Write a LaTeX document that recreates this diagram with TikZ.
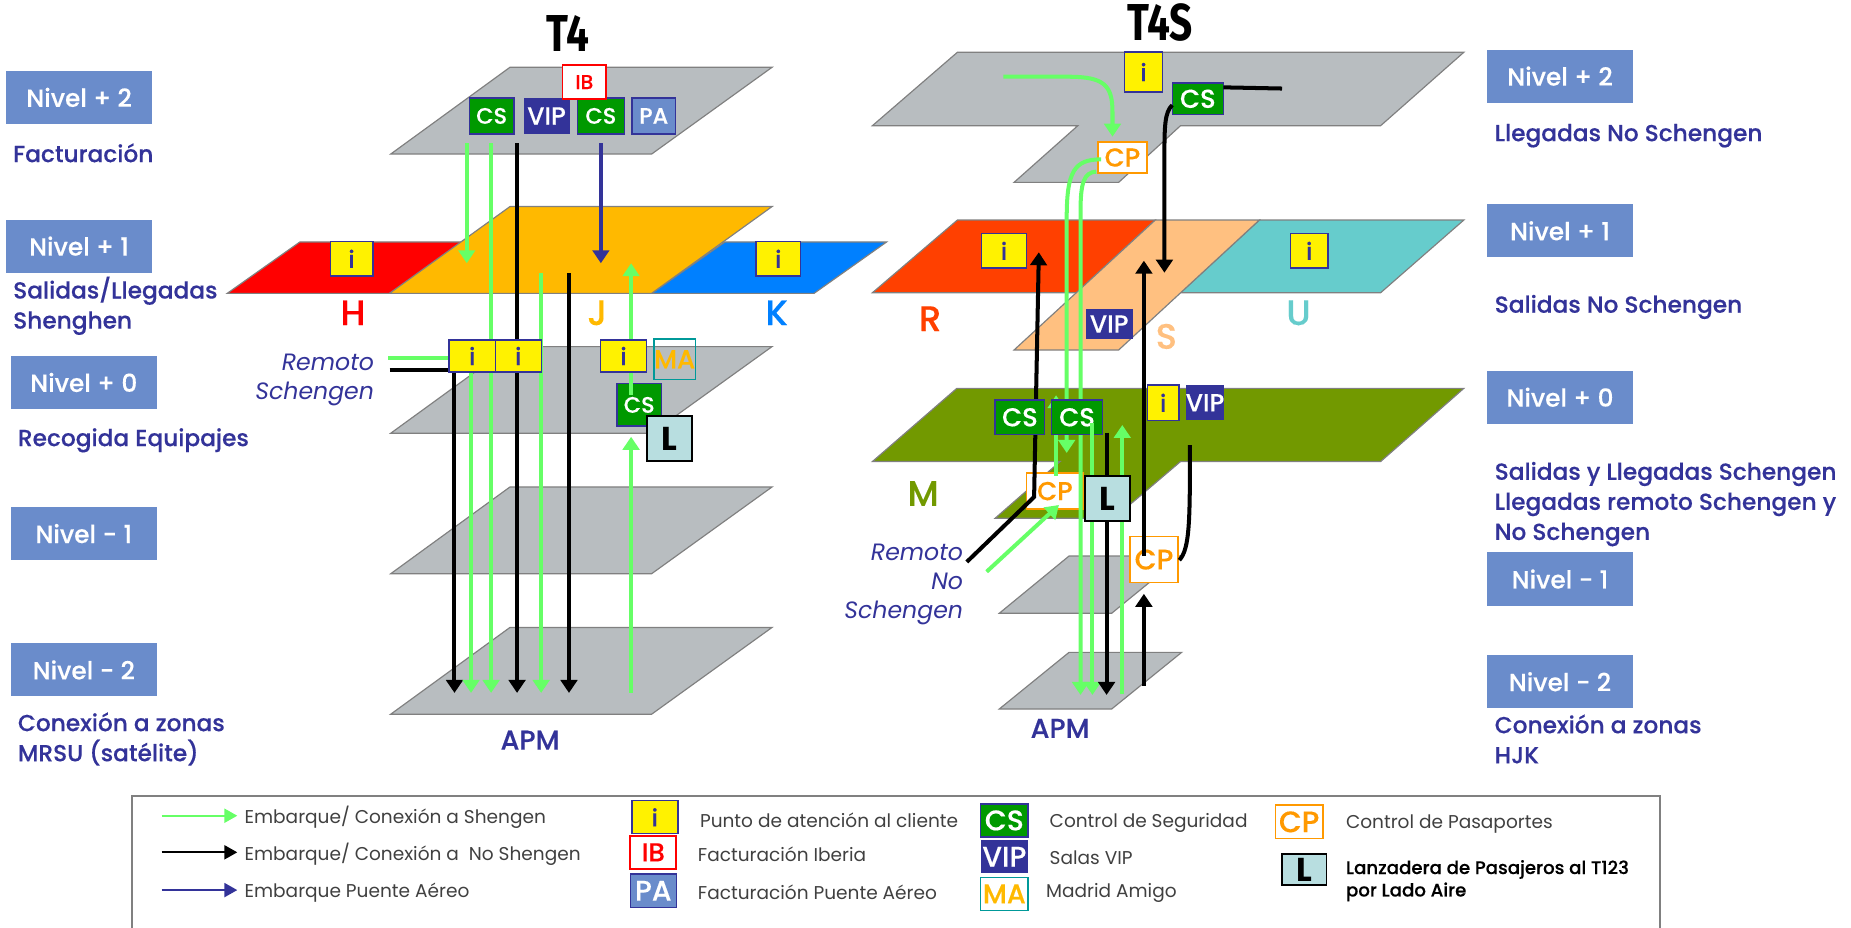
\documentclass[tikz,border=0pt]{standalone}
\usepackage{fontspec}
\usetikzlibrary{arrows.meta}
\setmainfont{Poppins}
\newfontfamily\labelfont[FakeBold=0.3]{Poppins Medium}
\newfontfamily\titlefont[FakeStretch=0.78]{Fira Sans}
\definecolor{planegray}{HTML}{B8BDC0}
\definecolor{planeline}{HTML}{808080}
\definecolor{arrowgreen}{HTML}{66FF66}
\definecolor{navy}{HTML}{333399}
\definecolor{nivelblue}{HTML}{6A8CCB}
\definecolor{csgreen}{HTML}{009900}
\definecolor{cporange}{HTML}{FF9900}
\definecolor{jorange}{HTML}{FFB900}
\definecolor{kblue}{HTML}{0080FF}
\definecolor{rred}{HTML}{FF4000}
\definecolor{speach}{HTML}{FFC080}
\definecolor{uteal}{HTML}{66CCCC}
\definecolor{molive}{HTML}{729900}
\definecolor{lblue}{HTML}{B8DEE0}
\definecolor{mateal}{HTML}{009999}
\tikzset{
    boxfont/.style={font=\labelfont\fontsize{#1}{#1}\selectfont},
    box/.style={inner sep=0pt,line width=1.2pt,boxfont=19},
    infobox/.style={box,draw=navy,fill=yellow,text=navy,boxfont=20,minimum width=36pt,minimum height=29pt},
    csbox/.style={box,draw=navy,fill=csgreen,text=white,minimum width=38pt,minimum height=29pt},
    vipbox/.style={box,fill=navy,text=white,boxfont=21,minimum width=39pt,minimum height=30pt},
    ibbox/.style={box,draw=red,fill=white,text=red,boxfont=17,minimum width=37pt,minimum height=29pt},
    pabox/.style={box,draw=navy,fill=nivelblue,text=white,minimum width=37pt,minimum height=30pt},
    cpbox/.style={box,draw=cporange,line width=1.5pt,fill=white,text=cporange,boxfont=22,minimum width=41pt,minimum height=26pt},
    mabox/.style={box,draw=mateal,text=jorange,boxfont=22,minimum width=35pt,minimum height=34pt},
    lbox/.style={box,draw=black,line width=1.5pt,fill=lblue,text=black,font=\fontsize{28}{28}\selectfont\bfseries,minimum width=38pt,minimum height=38pt},
    nivel/.style={fill=nivelblue,text=white,minimum width=124pt,minimum height=45pt,boxfont=21},
    lab/.style={anchor=west,align=left,inner sep=0pt,text=navy,font=\labelfont\fontsize{19.7}{25.5}\selectfont},
    remoto/.style={anchor=east,align=right,inner sep=0pt,text=navy,font=\fontsize{20}{24.5}\selectfont\itshape},
    letra/.style={boxfont=30},
    legend/.style={anchor=west,inner sep=0pt,text=black!75,font=\fontsize{15.7}{18}\selectfont},
    title/.style={font=\titlefont\fontsize{44}{44}\selectfont\bfseries},
    plane/.style={draw=planeline,line width=1pt},
    flow/.style={line width=3.4pt,-{Triangle[length=11pt,width=14pt]}},
    flowend/.style={line width=3.4pt},
    legflow/.style={line width=1.5pt,-{Triangle[length=11pt,width=12pt]}},
}
\begin{document}
\begin{tikzpicture}[x=1pt,y=-1pt]
    \useasboundingbox (0,0) rectangle (1568,786);

    \draw[plane,fill=planegray] (331,130.5) -- (432,57) -- (654,57) -- (552,130.5) -- cycle;
    \draw[plane,fill=red] (192.5,248.5) -- (254,205) -- (395,205) -- (330,248.5) -- cycle;
    \draw[plane,fill=kblue] (552,248.5) -- (614,205) -- (751,205) -- (689.6,248.5) -- cycle;
    \draw[plane,fill=jorange] (330,248.5) -- (432,175) -- (654,175) -- (552,248.5) -- cycle;
    \draw[plane,fill=planegray] (331,367) -- (432,293.6) -- (654,293.6) -- (552,367) -- cycle;
    \draw[plane,fill=planegray] (331,486) -- (432,412.5) -- (654,412.5) -- (552,486) -- cycle;
    \draw[plane,fill=planegray] (331,605) -- (432,531.5) -- (654,531.5) -- (552,605) -- cycle;

    \draw[plane,fill=planegray] (811,44.3) -- (1240,44.3) -- (1169.5,106.5) -- (1000,106.5) -- (947.6,154.5) -- (859,154.5) -- (913,106.5) -- (739,106.5) -- cycle;
    \draw[plane,fill=rred] (739,248) -- (811,186.4) -- (978.6,186.4) -- (912.5,248) -- cycle;
    \draw[plane,fill=uteal] (1066.8,186.4) -- (1240,186.4) -- (1169.5,248) -- (1000,248) -- cycle;
    \draw[plane,fill=speach] (978.6,186.4) -- (1066.8,186.4) -- (947.6,296.5) -- (859,296.5) -- cycle;
    \draw[plane,fill=molive] (810.5,329) -- (1240,329) -- (1169.5,391) -- (1000,391) -- (943.6,439) -- (843,439) -- (898,391) -- (739,391) -- cycle;
    \draw[plane,fill=planegray] (846.5,519.5) -- (905.6,471) -- (1001,471) -- (941.7,519.5) -- cycle;
    \draw[plane,fill=planegray] (846.5,600.6) -- (905.6,552.6) -- (1001,552.6) -- (941.7,600.6) -- cycle;

    \node[title] (tcuatro) at (481,28) {T4};
    \node[title] (tcuatros) at (983,19) {T4S};

    \node[nivel] (na) at (67,82.5) {Nivel + 2};
    \node[nivel] (nb) at (67,208.5) {Nivel + 1};
    \node[nivel] (nc) at (71,324) {Nivel + 0};
    \node[nivel] (nd) at (71,452) {Nivel - 1};
    \node[nivel] (ne) at (71,567.5) {Nivel - 2};
    \node[nivel] (sa) at (1321.5,64.5) {Nivel + 2};
    \node[nivel] (sb) at (1321.5,195.5) {Nivel + 1};
    \node[nivel] (sc) at (1321.5,336.5) {Nivel + 0};
    \node[nivel] (sd) at (1321.5,490.5) {Nivel - 1};
    \node[nivel] (se) at (1321.5,577.5) {Nivel - 2};

    \node[lab] (fact) at (11,129.5) {Facturación};
    \node[lab] (sall) at (11,259) {Salidas/Llegadas\\Shenghen};
    \node[lab] (reco) at (15,373) {Recogida Equipajes};
    \node[lab] (conx) at (15,626) {Conexión a zonas\\MRSU (satélite)};
    \node[lab] (lleg) at (1266,115) {Llegadas No Schengen};
    \node[lab] (salno) at (1266,260) {Salidas No Schengen};
    \node[lab] (salsc) at (1266,427) {Salidas y Llegadas Schengen\\Llegadas remoto Schengen y\\No Schengen};
    \node[lab] (conh) at (1266,626) {Conexión a zonas\\HJK};
    \node[lab,anchor=center,boxfont=23] (apma) at (449,627) {APM};
    \node[lab,anchor=center,boxfont=23] (apmb) at (898,617) {APM};

    \node[letra,text=red] (zh) at (299,265) {H};
    \node[letra,text=jorange] (zj) at (506,265) {J};
    \node[letra,text=kblue] (zk) at (658,265) {K};
    \node[letra,text=rred] (zr) at (788,270) {R};
    \node[letra,text=speach] (zs) at (988,285) {S};
    \node[letra,text=uteal] (zu) at (1100,265) {U};
    \node[letra,text=molive] (zm) at (782,418) {M};

    \node[remoto] (rema) at (317,322) {Remoto\\Schengen};
    \node[remoto] (remb) at (816,495) {Remoto\\No\\Schengen};

    \coordinate (ga) at (395.4,121.5);
    \coordinate (gb) at (395.4,223);
    \coordinate (gc) at (416,121.5);
    \coordinate (gd) at (416,587);
    \coordinate (ba) at (438,121.5);
    \coordinate (bb) at (438,587);
    \coordinate (pa) at (509,121.5);
    \coordinate (pb) at (509,223);
    \coordinate (ge) at (458.4,231.6);
    \coordinate (gf) at (458.4,587);
    \coordinate (bc) at (482,231.6);
    \coordinate (bd) at (482,587);
    \coordinate (gg) at (534.6,587);
    \coordinate (gh) at (534.6,370);
    \coordinate (gi) at (534.6,334.6);
    \coordinate (gj) at (534.6,223);
    \coordinate (gk) at (329,303.5);
    \coordinate (gn) at (381,303.5);
    \coordinate (gl) at (399,312);
    \coordinate (gm) at (399,587);
    \coordinate (be) at (330,313.5);
    \coordinate (bf) at (385,313.5);
    \coordinate (bg) at (385,587);

    \node[cpbox,minimum width=48pt,minimum height=30pt] (cpm) at (893.6,416) {CP};
    \node[cpbox,minimum height=39pt,boxfont=24] (cpn) at (977.6,474) {CP};

    \draw[flowend,arrowgreen] (gk) -- (gn);
    \draw[flowend] (be) -- (bf);
    \draw[flow,arrowgreen] (ga) -- (gb);
    \draw[flow,arrowgreen] (gc) -- (gd);
    \draw[flow] (ba) -- (bb);
    \draw[flow,navy] (pa) -- (pb);
    \draw[flow,arrowgreen] (ge) -- (gf);
    \draw[flow] (bc) -- (bd);
    \draw[flow,arrowgreen] (gg) -- (gh);
    \draw[flow] (bf) -- (bg);
    \draw[flow,arrowgreen] (gl) -- (gm);

    \node[infobox] (ih) at (297.8,219.2) {i};
    \node[infobox,minimum width=38pt] (ik) at (659.3,219.2) {i};
    \node[csbox,minimum height=36pt] (csc) at (541.5,343) {CS};
    \draw[flow,arrowgreen] (gi) -- (gj);
    \node[infobox,minimum width=39pt,minimum height=27pt] (ic) at (400,301.5) {i};
    \node[infobox,minimum width=39pt,minimum height=27pt] (id) at (439,301.5) {i};
    \node[infobox,minimum width=39pt,minimum height=27pt] (ie) at (528.2,301.5) {i};
    \node[mabox] (mam) at (571.5,304.3) {MA};
    \node[lbox] (lanc) at (567,371.5) {L};
    \node[csbox,minimum height=30.5pt] (csa) at (416.5,98.2) {CS};
    \node[vipbox,minimum height=30.5pt] (vipa) at (463,98.2) {VIP};
    \node[csbox,minimum width=40pt,minimum height=30.5pt] (csb) at (509,98.2) {CS};
    \node[pabox,minimum height=30.5pt] (paa) at (553.8,98.2) {PA};
    \node[ibbox] (iba) at (495,69.5) {IB};

    \coordinate (ha) at (850,65);
    \coordinate (hb) at (942.4,115.8);
    \coordinate (hc) at (1036.4,74);
    \coordinate (hd) at (1086,75);
    \coordinate (he) at (993,89);
    \coordinate (hf) at (986.4,231);
    \coordinate (hg) at (932.8,135);
    \coordinate (hh) at (903.6,383.7);
    \coordinate (hi) at (928.6,145.4);
    \coordinate (hj) at (915.3,588.7);
    \coordinate (hk) at (925.4,358.6);
    \coordinate (hl) at (925.4,588.7);
    \coordinate (hm) at (937.4,366.5);
    \coordinate (hn) at (937.4,588.7);
    \coordinate (ho) at (950.7,588);
    \coordinate (hp) at (950.7,360);
    \coordinate (hq) at (894.6,403);
    \coordinate (hr) at (894.6,334.8);
    \coordinate (hs) at (819,476);
    \coordinate (ht) at (876,421);
    \coordinate (hu) at (880,213.7);
    \coordinate (hv) at (835.8,484.3);
    \coordinate (hw) at (897,427.8);
    \coordinate (hx) at (969,471);
    \coordinate (hy) at (969,220.8);
    \coordinate (hz) at (969,581);
    \coordinate (ja) at (969,503);
    \coordinate (jb) at (1008,377);
    \coordinate (jc) at (999,474.5);

    \node[infobox,minimum width=32pt,minimum height=34pt] (ita) at (968.7,61) {i};
    \node[csbox,minimum width=43pt,minimum height=27pt,boxfont=22] (cst) at (1014.7,83.7) {CS};
    \node[infobox,minimum width=38pt] (ir) at (850.5,212.5) {i};
    \node[infobox,minimum width=32pt] (iu) at (1109,212.5) {i};
    \node[vipbox,minimum width=40pt,minimum height=25pt] (vips) at (939.6,274.5) {VIP};
    \node[cpbox] (cpt) at (950.8,133.4) {CP};

    \draw[flow,arrowgreen] (ha) -- (905,65) .. controls (935,65) and (942.4,72) .. (942.4,95) -- (hb);
    \draw[flowend] (hc) -- (hd);
    \draw[flow] (he) .. controls (987,95) and (986.4,105) .. (986.4,130) -- (hf);
    \draw[flow,arrowgreen] (hg) .. controls (910,135) and (903.6,145) .. (903.6,185) -- (hh);
    \draw[flow,arrowgreen] (hi) .. controls (918,146) and (915.3,155) .. (915.3,180) -- (hj);
    \draw[flow,arrowgreen] (hq) -- (hr);
    \draw[flow] (hs) -- (ht) -- (hu);
    \draw[flow] (hx) -- (hy);
    \draw[flow] (hz) -- (ja);
    \draw[flowend] (jb) .. controls (1008,440) and (1008,465) .. (jc);

    \node[csbox,minimum width=42pt,boxfont=22] (csm) at (864,353.5) {CS};
    \node[csbox,minimum width=43pt,boxfont=22] (csn) at (912.4,353.5) {CS};
    \node[infobox,minimum width=27pt,minimum height=30pt] (im) at (985.3,341.2) {i};
    \node[vipbox,minimum width=32pt,minimum height=30pt] (vipm) at (1020.8,341.2) {VIP};
    \draw[flow,arrowgreen] (hk) -- (hl);
    \draw[flow] (hm) -- (hn);
    \draw[flow,arrowgreen] (ho) -- (hp);
    \draw[flow,arrowgreen] (hv) -- (hw);
    \node[lbox] (lanm) at (938.4,422.5) {L};

    \draw[line width=1.5pt,planeline] (111.5,790) -- (111.5,674) -- (1406,674) -- (1406,790);
    \coordinate (ka) at (137,691);
    \coordinate (kb) at (201,691);
    \coordinate (kc) at (137,722);
    \coordinate (kd) at (201,722);
    \coordinate (ke) at (137,754);
    \coordinate (kf) at (201,754);
    \draw[legflow,arrowgreen] (ka) -- (kb);
    \draw[legflow] (kc) -- (kd);
    \draw[legflow,navy] (ke) -- (kf);
    \node[legend] (ta) at (207,692.5) {Embarque/ Conexión a Shengen};
    \node[legend] (tb) at (207,724) {Embarque/ Conexión a \ No Shengen};
    \node[legend] (tc) at (207,756) {Embarque Puente Aéreo};

    \node[infobox,minimum width=39pt,minimum height=28pt] (ki) at (554.7,692.3) {i};
    \node[ibbox,minimum width=39pt,minimum height=28pt,line width=1.5pt,boxfont=22] (kib) at (553.4,722) {IB};
    \node[pabox,minimum width=39pt,minimum height=28pt,boxfont=24] (kpa) at (553.4,754.5) {PA};
    \node[legend] (td) at (592.8,695) {Punto de atención al cliente};
    \node[legend] (te) at (591,724) {Facturación Iberia};
    \node[legend] (tf) at (591,755.5) {Facturación Puente Aéreo};

    \node[csbox,minimum width=40pt,minimum height=28pt,boxfont=24] (kcs) at (850.8,695) {CS};
    \node[vipbox,minimum width=40pt,minimum height=28pt,boxfont=24] (kvip) at (850.8,725.7) {VIP};
    \node[mabox,minimum width=40pt,minimum height=28pt,boxfont=23] (kma) at (850.8,757.2) {MA};
    \node[legend] (tg) at (889,697) {Control de Seguridad};
    \node[legend] (th) at (889,726.7) {Salas VIP};
    \node[legend] (ti) at (886,756.4) {Madrid Amigo};

    \node[cpbox,minimum width=40pt,minimum height=28pt,boxfont=25] (kcp) at (1100.5,696.2) {CP};
    \node[lbox,minimum width=38pt,minimum height=26pt] (kl) at (1104.7,736.7) {L};
    \node[legend] (tj) at (1140,698) {Control de Pasaportes};
    \node[legend,align=left,text=black,font=\labelfont\fontsize{15.4}{19}\selectfont] (tk) at (1140,746) {Lanzadera de Pasajeros al T123\\por Lado Aire};
\end{tikzpicture}
\end{document}
